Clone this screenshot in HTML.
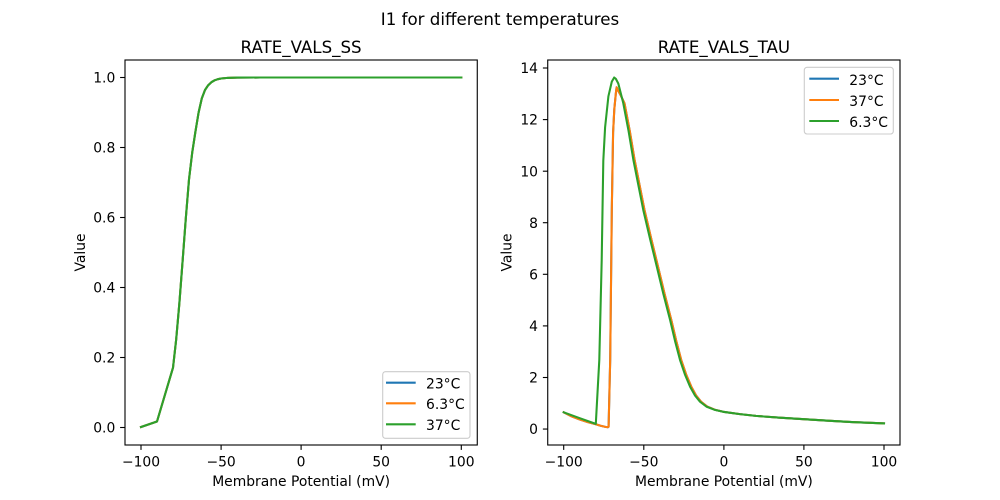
<!DOCTYPE html>
<html>
<head>
<meta charset="utf-8">
<style>
  html, body { margin: 0; padding: 0; background: #ffffff; }
  svg { display: block; }
  text { font-family: "DejaVu Sans", "Liberation Sans", sans-serif; fill: #000; }
</style>
</head>
<body>
<svg width="1000" height="500" viewBox="0 0 1000 500" xmlns="http://www.w3.org/2000/svg">
  <rect x="0" y="0" width="1000" height="500" fill="#ffffff"/>

  <!-- Suptitle -->
  <text x="500" y="25" font-size="16.67" text-anchor="middle">I1 for different temperatures</text>

  <!-- ================= LEFT AXES ================= -->
  <text x="301.1" y="53" font-size="16.67" text-anchor="middle">RATE_VALS_SS</text>

  <!-- series (blue, orange beneath green) -->
  <g fill="none" stroke-width="2.08" stroke-linejoin="round" stroke-linecap="square">
    <polyline stroke="#1f77b4" points="141.0,427.0 157.0,421.5 173.0,367.7 176.2,339.2 179.4,302.9 182.6,261.1 185.8,218.4 189.0,179.5 192.2,152.7 195.4,131.8 198.6,112.5 201.8,98.4 205.0,90.0 208.2,85.2 211.4,82.2 214.6,80.3 217.8,79.2 221.1,78.5 227.5,77.9 237.1,77.6 260,77.5 461.3,77.5"/>
    <polyline stroke="#ff7f0e" points="141.0,427.0 157.0,421.5 173.0,367.7 176.2,339.2 179.4,302.9 182.6,261.1 185.8,218.4 189.0,179.5 192.2,152.7 195.4,131.8 198.6,112.5 201.8,98.4 205.0,90.0 208.2,85.2 211.4,82.2 214.6,80.3 217.8,79.2 221.1,78.5 227.5,77.9 237.1,77.6 260,77.5 461.3,77.5"/>
    <polyline stroke="#2ca02c" points="141.0,427.0 157.0,421.5 173.0,367.7 176.2,339.2 179.4,302.9 182.6,261.1 185.8,218.4 189.0,179.5 192.2,152.7 195.4,131.8 198.6,112.5 201.8,98.4 205.0,90.0 208.2,85.2 211.4,82.2 214.6,80.3 217.8,79.2 221.1,78.5 227.5,77.9 237.1,77.6 260,77.5 461.3,77.5"/>
  </g>

  <!-- spines -->
  <rect x="125" y="60" width="352.27" height="385" fill="none" stroke="#000" stroke-width="1.11"/>

  <!-- x ticks -->
  <g stroke="#000" stroke-width="1.11">
    <line x1="141.0" y1="445" x2="141.0" y2="449.9"/>
    <line x1="221.1" y1="445" x2="221.1" y2="449.9"/>
    <line x1="301.1" y1="445" x2="301.1" y2="449.9"/>
    <line x1="381.2" y1="445" x2="381.2" y2="449.9"/>
    <line x1="461.3" y1="445" x2="461.3" y2="449.9"/>
  </g>
  <g font-size="13.89" text-anchor="middle">
    <text x="141.0" y="466.7">−100</text>
    <text x="221.1" y="466.7">−50</text>
    <text x="301.1" y="466.7">0</text>
    <text x="381.2" y="466.7">50</text>
    <text x="461.3" y="466.7">100</text>
  </g>
  <text x="301.1" y="486" font-size="13.89" text-anchor="middle">Membrane Potential (mV)</text>

  <!-- y ticks -->
  <g stroke="#000" stroke-width="1.11">
    <line x1="125" y1="427.5" x2="120.1" y2="427.5"/>
    <line x1="125" y1="357.5" x2="120.1" y2="357.5"/>
    <line x1="125" y1="287.5" x2="120.1" y2="287.5"/>
    <line x1="125" y1="217.5" x2="120.1" y2="217.5"/>
    <line x1="125" y1="147.5" x2="120.1" y2="147.5"/>
    <line x1="125" y1="77.5" x2="120.1" y2="77.5"/>
  </g>
  <g font-size="13.89" text-anchor="end">
    <text x="115.3" y="432.55">0.0</text>
    <text x="115.3" y="362.55">0.2</text>
    <text x="115.3" y="292.55">0.4</text>
    <text x="115.3" y="222.55">0.6</text>
    <text x="115.3" y="152.55">0.8</text>
    <text x="115.3" y="82.55">1.0</text>
  </g>
  <text transform="translate(85,252.5) rotate(-90)" font-size="13.89" text-anchor="middle">Value</text>

  <!-- left legend -->
  <rect x="382.7" y="371.7" width="87.3" height="66.6" rx="2.8" ry="2.8" fill="#ffffff" fill-opacity="0.8" stroke="#cccccc" stroke-width="1.11"/>
  <g stroke-width="2.08">
    <line x1="386" y1="382.7" x2="415.7" y2="382.7" stroke="#1f77b4"/>
    <line x1="386" y1="403.3" x2="415.7" y2="403.3" stroke="#ff7f0e"/>
    <line x1="386" y1="424.3" x2="415.7" y2="424.3" stroke="#2ca02c"/>
  </g>
  <g font-size="13.89">
    <text x="426" y="388.6">23°C</text>
    <text x="426" y="409.2">6.3°C</text>
    <text x="426" y="430.2">37°C</text>
  </g>

  <!-- ================= RIGHT AXES ================= -->
  <text x="723.9" y="53" font-size="16.67" text-anchor="middle">RATE_VALS_TAU</text>

  <g fill="none" stroke-width="2.08" stroke-linejoin="round" stroke-linecap="square">
    <polyline stroke="#1f77b4" points="563.7,412.3 571.7,416.4 579.8,419.5 587.8,422.1 595.8,424.2 600.6,425.7 605.4,426.9 607.8,427.2 608.6,426.7 610.2,359.9 611.8,209.8 613.1,132.4 614.3,109.3 615.8,93.8 616.6,87.3 617.7,89.9 620.6,95.1 624.5,103.3 629.8,131.2 634.6,160.0 639.6,185.3 644.5,210.1 651.4,239.5 658.0,266.6 664.5,293.6 671.3,320.0 676.2,340.8 681.2,359.9 686.3,374.9 691.3,386.7 696.1,395.5 701.0,401.7 707.2,406.6 714.8,409.7 723.3,411.8 739.9,414.1 755.9,415.9 779.9,417.7 803.9,419.2 830.0,420.8 851.9,422.1 884.0,423.4"/>
    <polyline stroke="#ff7f0e" points="563.7,412.3 571.7,416.4 579.8,419.5 587.8,422.1 595.8,424.2 600.6,425.7 605.4,426.9 607.8,427.2 608.6,426.7 610.2,359.9 611.8,209.8 613.1,132.4 614.3,109.3 615.8,93.8 616.6,87.3 617.7,89.9 620.6,95.1 624.5,103.3 629.8,131.2 634.6,160.0 639.6,185.3 644.5,210.1 651.4,239.5 658.0,266.6 664.5,293.6 671.3,320.0 676.2,340.8 681.2,359.9 686.3,374.9 691.3,386.7 696.1,395.5 701.0,401.7 707.2,406.6 714.8,409.7 723.3,411.8 739.9,414.1 755.9,415.9 779.9,417.7 803.9,419.2 830.0,420.8 851.9,422.1 884.0,423.4"/>
    <polyline stroke="#2ca02c" points="563.7,412.3 579.8,418.2 595.8,423.9 599.3,359.9 601.7,260.1 603.3,160.8 605.1,127.3 608.4,96.3 611.8,81.6 614.2,77.5 615.8,78.8 618.3,83.5 623.3,103.3 628.6,131.2 633.4,160.0 638.4,185.3 643.3,210.1 650.2,239.5 656.8,266.6 663.3,293.6 670.1,320.0 675.0,340.8 680.0,359.9 685.1,374.9 690.1,386.7 695.0,395.5 700.0,401.7 706.4,406.6 714.3,409.7 723.1,411.8 739.9,414.1 755.9,415.9 779.9,417.7 803.9,419.2 830.0,420.8 851.9,422.1 884.0,423.4"/>
  </g>

  <rect x="547.73" y="60" width="352.27" height="385" fill="none" stroke="#000" stroke-width="1.11"/>

  <g stroke="#000" stroke-width="1.11">
    <line x1="563.7" y1="445" x2="563.7" y2="449.9"/>
    <line x1="643.8" y1="445" x2="643.8" y2="449.9"/>
    <line x1="723.9" y1="445" x2="723.9" y2="449.9"/>
    <line x1="803.9" y1="445" x2="803.9" y2="449.9"/>
    <line x1="884.0" y1="445" x2="884.0" y2="449.9"/>
  </g>
  <g font-size="13.89" text-anchor="middle">
    <text x="563.7" y="466.7">−100</text>
    <text x="643.8" y="466.7">−50</text>
    <text x="723.9" y="466.7">0</text>
    <text x="803.9" y="466.7">50</text>
    <text x="884.0" y="466.7">100</text>
  </g>
  <text x="723.9" y="486" font-size="13.89" text-anchor="middle">Membrane Potential (mV)</text>

  <g stroke="#000" stroke-width="1.11">
    <line x1="547.73" y1="429.05" x2="542.87" y2="429.05"/>
    <line x1="547.73" y1="377.5" x2="542.87" y2="377.5"/>
    <line x1="547.73" y1="325.9" x2="542.87" y2="325.9"/>
    <line x1="547.73" y1="274.3" x2="542.87" y2="274.3"/>
    <line x1="547.73" y1="222.7" x2="542.87" y2="222.7"/>
    <line x1="547.73" y1="171.2" x2="542.87" y2="171.2"/>
    <line x1="547.73" y1="119.6" x2="542.87" y2="119.6"/>
    <line x1="547.73" y1="68.0" x2="542.87" y2="68.0"/>
  </g>
  <g font-size="13.89" text-anchor="end">
    <text x="538.0" y="434.1">0</text>
    <text x="538.0" y="382.55">2</text>
    <text x="538.0" y="330.95">4</text>
    <text x="538.0" y="279.35">6</text>
    <text x="538.0" y="227.75">8</text>
    <text x="538.0" y="176.25">10</text>
    <text x="538.0" y="124.65">12</text>
    <text x="538.0" y="73.05">14</text>
  </g>
  <text transform="translate(511.7,252.5) rotate(-90)" font-size="13.89" text-anchor="middle">Value</text>

  <!-- right legend -->
  <rect x="804.3" y="67.3" width="89" height="66.7" rx="2.8" ry="2.8" fill="#ffffff" fill-opacity="0.8" stroke="#cccccc" stroke-width="1.11"/>
  <g stroke-width="2.08">
    <line x1="809.3" y1="78.7" x2="839" y2="78.7" stroke="#1f77b4"/>
    <line x1="809.3" y1="100" x2="839" y2="100" stroke="#ff7f0e"/>
    <line x1="809.3" y1="121" x2="839" y2="121" stroke="#2ca02c"/>
  </g>
  <g font-size="13.89">
    <text x="849.3" y="84.8">23°C</text>
    <text x="849.3" y="106.1">37°C</text>
    <text x="849.3" y="127.1">6.3°C</text>
  </g>
</svg>
</body>
</html>
